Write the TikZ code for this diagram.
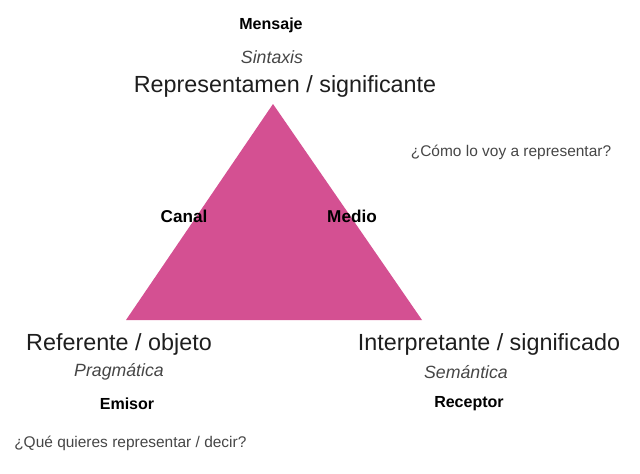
\documentclass[tikz,border=0pt]{standalone}
\usepackage{fontspec}
\setmainfont{Liberation Sans}
\definecolor{semiopink}{RGB}{212,80,146}
\definecolor{labelgray}{RGB}{30,30,30}
\definecolor{softgray}{RGB}{70,70,70}
\tikzset{
  vertex/.style={text=labelgray, font=\fontsize{16.6}{19}\selectfont, inner sep=0pt},
  branch/.style={text=softgray, font=\fontsize{12.6}{15}\selectfont\itshape, inner sep=0pt},
  role/.style={text=black, font=\fontsize{11.4}{14}\selectfont\bfseries, inner sep=0pt},
  question/.style={text=softgray, font=\fontsize{11}{13}\selectfont, inner sep=0pt}
}
\begin{document}
\begin{tikzpicture}[x=0.025cm, y=-0.025cm]
\useasboundingbox (0,0) rectangle (640,474);
\coordinate (apex) at (273,104);
\coordinate (baseLeft) at (126,320);
\coordinate (baseRight) at (422,320);
\fill[semiopink] (apex) -- (baseLeft) -- (baseRight) -- cycle;
\node[role] (mensaje) at (271,25) {Mensaje};
\node[branch] (sintaxis) at (272,57) {Sintaxis};
\node[vertex] (representamen) at (285,86) {Representamen / significante};
\node[question] (como) at (511,152) {¿Cómo lo voy a representar?};
\node[role, font=\fontsize{12.2}{14}\selectfont\bfseries] (canal) at (184,216) {Canal};
\node[role, font=\fontsize{12.2}{14}\selectfont\bfseries] (medio) at (352,216) {Medio};
\node[vertex] (referente) at (119,344) {Referente / objeto};
\node[vertex] (interpretante) at (489,344) {Interpretante / significado};
\node[branch] (pragmatica) at (119,372) {Pragmática};
\node[branch] (semantica) at (466,372) {Semántica};
\node[role] (emisor) at (127,404) {Emisor};
\node[role] (receptor) at (469,404) {Receptor};
\node[question, anchor=west] (que) at (14,443) {¿Qué quieres representar / decir?};
\end{tikzpicture}
\end{document}
